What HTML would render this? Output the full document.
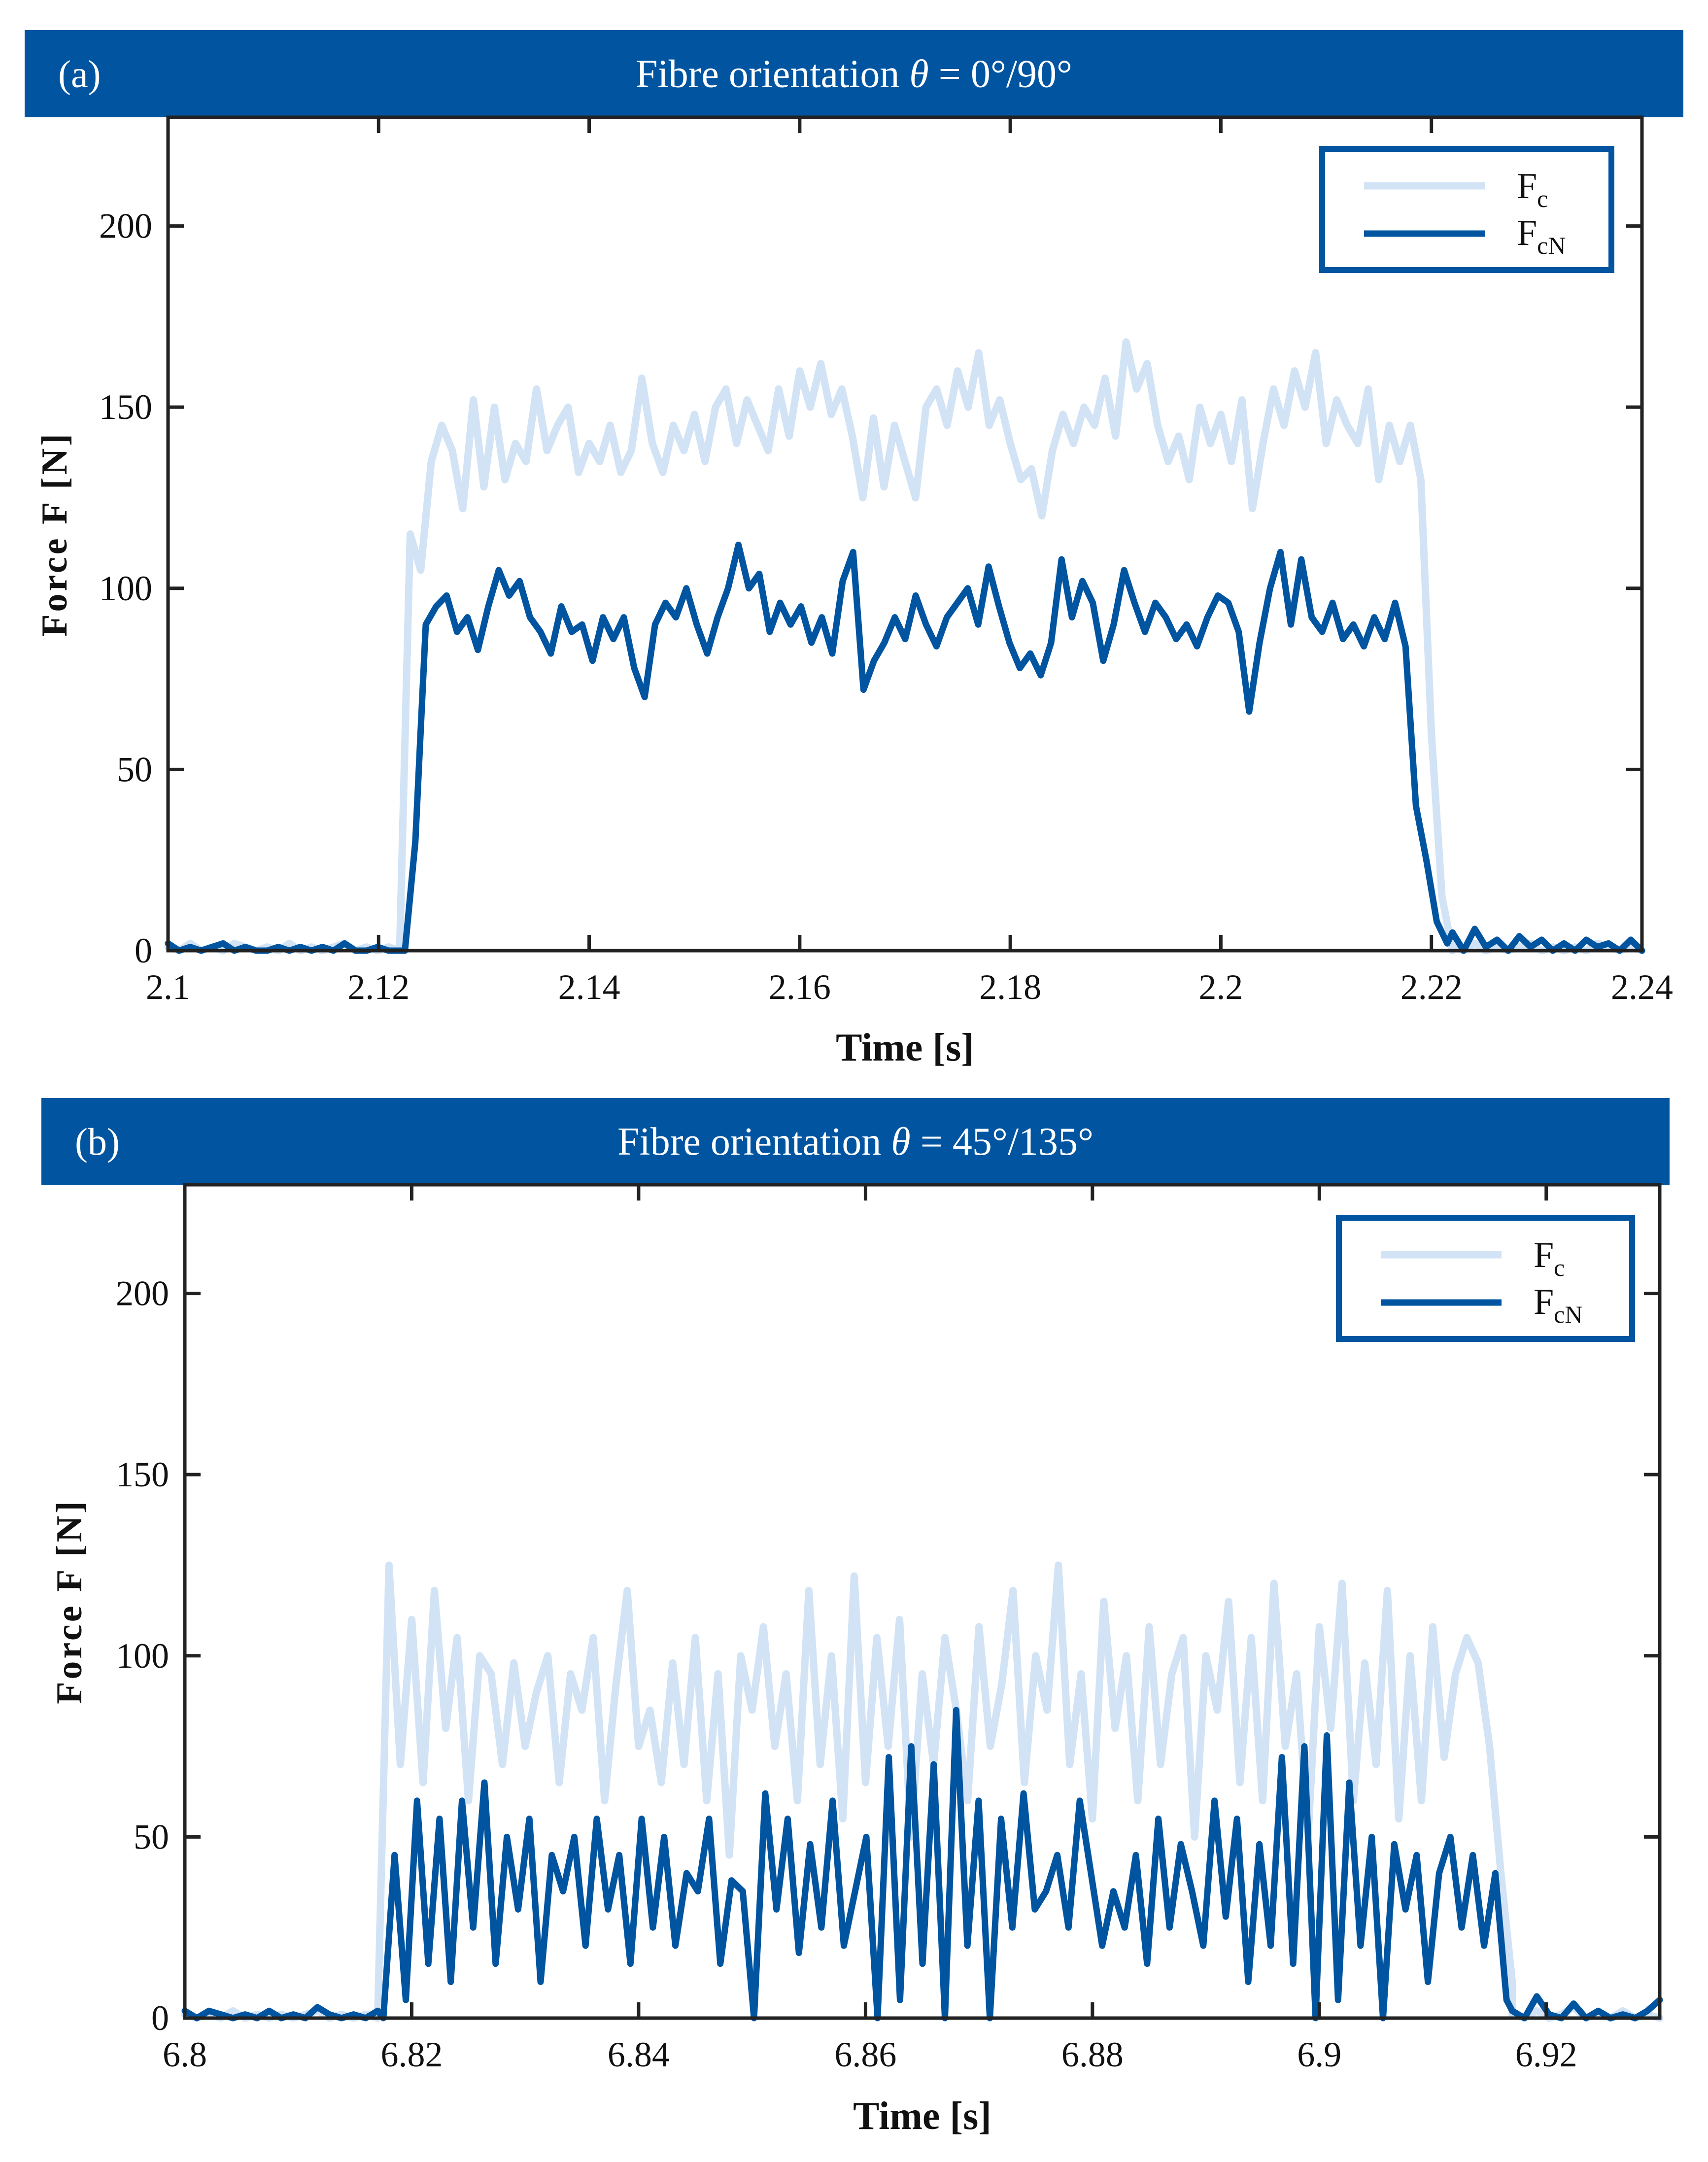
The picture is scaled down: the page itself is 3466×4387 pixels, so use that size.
<!DOCTYPE html>
<html><head><meta charset="utf-8"><style>
html,body{margin:0;padding:0;background:#fff}
svg{display:block}
text{font-family:"Liberation Serif",serif}
</style></head><body>
<svg id="fig" width="3466" height="4387" viewBox="0 0 3466 4387" xmlns="http://www.w3.org/2000/svg"></svg>
<script>
// ---- Panel (a) data ----
const aXTicks = [2.1,2.12,2.14,2.16,2.18,2.2,2.22,2.24];
const aXTickLabels = ["2.1","2.12","2.14","2.16","2.18","2.2","2.22","2.24"];
const yTicks = [0,50,100,150,200];
const yTickLabels = ["0","50","100","150","200"];
const aPreFc = [1,0,2,0,1,0,2,1,0,1,0,2,0,1,0,1,2,0,1,0,1,0];
const aPreFcN = [2,0,1,0,1,2,0,1,0,0,1,0,1,0,1,0,2,0,0,1,0,0];
const aFc = [0,115,105,135,145,138,122,152,128,150,130,140,135,155,138,145,150,132,140,135,145,132,138,158,140,132,145,138,148,135,150,155,140,152,145,138,155,142,160,150,162,148,155,142,125,147,128,145,135,125,150,155,145,160,150,165,145,152,140,130,133,120,138,148,140,150,145,158,142,168,155,162,145,135,142,130,150,140,148,135,152,122,140,155,145,160,150,165,140,152,145,140,155,130,145,135,145,130,60,15,0];
const aFcN = [0,30,90,95,98,88,92,83,95,105,98,102,92,88,82,95,88,90,80,92,86,92,78,70,90,96,92,100,90,82,92,100,112,100,104,88,96,90,95,85,92,82,102,110,72,80,85,92,86,98,90,84,92,96,100,90,106,95,85,78,82,76,85,108,92,102,96,80,90,105,96,88,96,92,86,90,84,92,98,96,88,66,85,100,110,90,108,92,88,96,86,90,84,92,86,96,84,40,25,8,2];
const aPostFc = [1,0,2,0,1,0,1,2,0,1,0,1,0,2,1,0,1,0];
const aPostFcN = [5,0,6,1,3,0,4,1,3,0,2,0,3,1,2,0,3,0];
// ---- Panel (b) data ----
const bXTicks = [6.8,6.82,6.84,6.86,6.88,6.9,6.92];
const bXTickLabels = ["6.8","6.82","6.84","6.86","6.88","6.9","6.92"];
const bPreFc = [1,0,1,0,2,0,1,0,1,0,1,2,0,1,0,1,0];
const bPreFcN = [2,0,2,1,0,1,0,2,0,1,0,3,1,0,1,0,2];
const bFc = [0,125,70,110,65,118,80,105,60,100,95,70,98,75,90,100,65,95,85,105,60,92,118,75,85,65,98,70,105,60,95,45,100,85,108,75,95,60,118,70,100,55,122,65,105,75,110,50,95,70,105,85,60,108,75,92,118,65,100,85,125,70,95,55,115,80,100,60,108,70,95,105,50,100,85,115,65,105,60,120,75,95,50,108,80,120,60,98,70,118,55,100,60,108,72,95,105,98,75,40,10];
const bFcN = [0,45,5,60,15,55,10,60,25,65,15,50,30,55,10,45,35,50,20,55,30,45,15,55,25,50,20,40,35,55,15,38,35,0,62,30,55,18,48,25,60,20,35,50,0,72,5,75,15,70,0,85,20,60,0,55,25,62,30,35,45,25,60,40,20,35,25,45,15,55,25,48,35,20,60,28,55,10,48,20,72,15,75,0,78,5,65,20,50,0,48,30,45,10,40,50,25,45,20,40,5];
const bPostFc = [1,0,2,0,1,3,0,1,0,2,0,1,0];
const bPostFcN = [2,0,6,1,0,4,0,2,0,1,0,2,5];

const NS="http://www.w3.org/2000/svg";
const svg=document.getElementById('fig');
function mk(tag,attrs,parent){const e=document.createElementNS(NS,tag);for(const k in attrs)e.setAttribute(k,attrs[k]);(parent||svg).appendChild(e);return e;}

function seg(t0,t1,vals){const n=vals.length;return vals.map((v,i)=>[t0+(t1-t0)*i/(n-1),v]);}

function panel(cfg){
  const g=mk('g',{});
  
  
  const hdr=mk('rect',{x:cfg.hx0,y:cfg.hy0,width:cfg.hx1-cfg.hx0,height:cfg.hy1-cfg.hy0,fill:'#0054a0'},g);
  
  
  const lab=mk('text',{x:cfg.hx0+68,y:(cfg.hy0+cfg.hy1)/2+27,'font-size':78,fill:'#fff'},g);
  lab.textContent=cfg.letter;
  
  
  const tt=mk('text',{x:(cfg.hx0+cfg.hx1)/2,y:(cfg.hy0+cfg.hy1)/2+27,'font-size':80,fill:'#fff','text-anchor':'middle'},g);
  tt.innerHTML=cfg.titleA+'<tspan font-style="italic">θ</tspan>'+cfg.titleB;
  
  
  const L=cfg.L,R=cfg.R,T=cfg.T,B=cfg.B;
  const xs=t=>L+(t-cfg.xmin)/(cfg.xmax-cfg.xmin)*(R-L);
  const ys=v=>B-v/230*(B-T);
  function draw(points,color,w,name){
    const p=mk('polyline',{points:points.map(q=>xs(q[0]).toFixed(1)+','+ys(q[1]).toFixed(1)).join(' '),fill:'none',stroke:color,'stroke-width':w,'stroke-linejoin':'round','stroke-linecap':'round'},g);
    
    
  }
  const fc=[].concat(seg(cfg.xmin,cfg.s0,cfg.preFc),seg(cfg.s0,cfg.s1,cfg.fc),seg(cfg.s1,cfg.xmax,cfg.postFc));
  const fcn=[].concat(seg(cfg.xmin,cfg.s0,cfg.preFcN),seg(cfg.s0+0.0005,cfg.s1-0.0005,cfg.fcn),seg(cfg.s1,cfg.xmax,cfg.postFcN));
  draw(fc,'#d2e3f5',15,'fc-line');
  draw(fcn,'#0054a0',13,'fcn-line');
  const box=mk('rect',{x:L,y:T,width:R-L,height:B-T,fill:'none',stroke:'#222','stroke-width':7},g);
  
  
  cfg.xticks.forEach((t,i)=>{
    const x=xs(t);
    mk('line',{x1:x,y1:B,x2:x,y2:B-32,stroke:'#222','stroke-width':7},g);
    mk('line',{x1:x,y1:T,x2:x,y2:T+32,stroke:'#222','stroke-width':7},g);
    const tx=mk('text',{x:x,y:B+98,'font-size':72,'text-anchor':'middle',fill:'#111'},g);
    tx.textContent=cfg.xlabels[i];
    
    
  });
  yTicks.forEach((v,i)=>{
    const y=ys(v);
    mk('line',{x1:L,y1:y,x2:L+32,y2:y,stroke:'#222','stroke-width':7},g);
    mk('line',{x1:R,y1:y,x2:R-32,y2:y,stroke:'#222','stroke-width':7},g);
    const ty=mk('text',{x:L-32,y:y+24,'font-size':72,'text-anchor':'end',fill:'#111'},g);
    ty.textContent=yTickLabels[i];
    
    
  });
  const xt=mk('text',{x:(L+R)/2,y:cfg.xlabY,'font-size':80,'font-weight':'bold','text-anchor':'middle',fill:'#111'},g);
  xt.textContent='Time [s]';
  
  
  const yt=mk('text',{x:0,y:0,'font-size':74,'font-weight':'bold','text-anchor':'middle',fill:'#111','letter-spacing':5,transform:`translate(${cfg.ylabX},${(T+B)/2}) rotate(-90)`},g);
  yt.textContent='Force F [N]';
  
  
  const lg=mk('g',{},g);
  
  
  const lx=cfg.lx0,ly=cfg.ly0,lw=cfg.lx1-cfg.lx0,lh=cfg.ly1-cfg.ly0;
  mk('rect',{x:lx,y:ly,width:lw,height:lh,fill:'#fff',stroke:'#0054a0','stroke-width':12},lg);
  mk('line',{x1:lx+85,y1:ly+75,x2:lx+330,y2:ly+75,stroke:'#d2e3f5','stroke-width':15},lg);
  mk('line',{x1:lx+85,y1:ly+172,x2:lx+330,y2:ly+172,stroke:'#0054a0','stroke-width':13},lg);
  const e1=mk('text',{x:lx+395,y:ly+100,'font-size':74,fill:'#111'},lg);
  e1.innerHTML='F<tspan font-size="50" dy="18">c</tspan>';
  
  
  const e2=mk('text',{x:lx+395,y:ly+195,'font-size':74,fill:'#111'},lg);
  e2.innerHTML='F<tspan font-size="50" dy="18">cN</tspan>';
  
  
}

panel({name:'panel-a',letter:'(a)',titleA:'Fibre orientation ',titleB:' = 0°/90°',
  hx0:50,hx1:3416,hy0:61,hy1:238,L:341,R:3332,T:238,B:1929,xmin:2.1,xmax:2.24,s0:2.122,s1:2.222,
  xticks:aXTicks,xlabels:aXTickLabels,preFc:aPreFc,preFcN:aPreFcN,fc:aFc,fcn:aFcN,postFc:aPostFc,postFcN:aPostFcN,
  xlabY:2152,ylabX:135,lx0:2683,lx1:3270,ly0:302,ly1:548});
panel({name:'panel-b',letter:'(b)',titleA:'Fibre orientation ',titleB:' = 45°/135°',
  hx0:84,hx1:3388,hy0:2228,hy1:2404,L:375,R:3368,T:2404,B:4095,xmin:6.8,xmax:6.93,s0:6.817,s1:6.917,
  xticks:bXTicks,xlabels:bXTickLabels,preFc:bPreFc,preFcN:bPreFcN,fc:bFc,fcn:bFcN,postFc:bPostFc,postFcN:bPostFcN,
  xlabY:4320,ylabX:165,lx0:2717,lx1:3312,ly0:2471,ly1:2717});
</script>
</body></html>
